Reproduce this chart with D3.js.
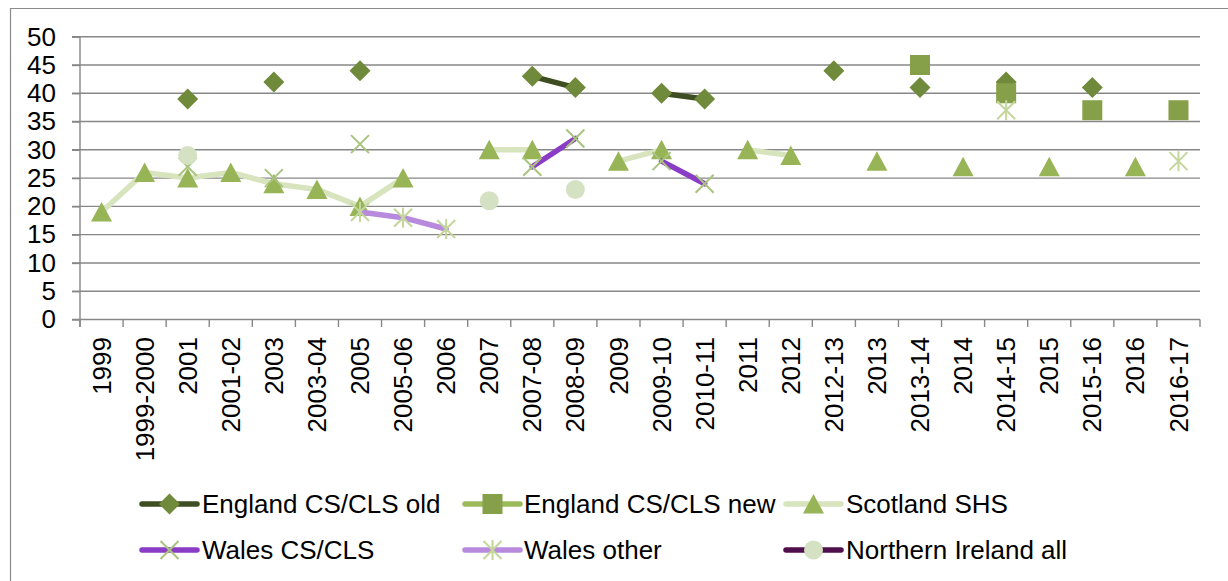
<!DOCTYPE html>
<html><head><meta charset="utf-8">
<script src="https://cdn.jsdelivr.net/npm/d3@7"></script>
<style>
html,body{margin:0;padding:0;background:#fff;}
svg{display:block;font-family:"Liberation Sans",Arial,sans-serif;}
</style></head>
<body>
<svg id="chart" width="1228" height="581"></svg>
<script>
const categories = ["1999","1999-2000","2001","2001-02","2003","2003-04","2005","2005-06","2006","2007","2007-08","2008-09","2009","2009-10","2010-11","2011","2012","2012-13","2013","2013-14","2014","2014-15","2015","2015-16","2016","2016-17"];
const englandOld = [null,null,39,null,42,null,44,null,null,null,43,41,null,40,39,null,null,44,null,41,null,42,null,41,null,null];
const englandNew = [null,null,null,null,null,null,null,null,null,null,null,null,null,null,null,null,null,null,null,45,null,40,null,37,null,37];
const scotland   = [19,26,25,26,24,23,20,25,null,30,30,null,28,30,null,30,29,null,28,null,27,null,27,null,27,null];
const walesCS    = [null,null,27,null,25,null,31,null,null,null,27,32,null,28,24,null,null,null,null,null,null,null,null,null,null,null];
const walesOther = [null,null,null,null,null,null,19,18,16,null,null,null,null,null,null,null,null,null,null,null,null,37,null,null,null,28];
const northernIreland = [null,null,29,null,null,null,null,null,null,21,null,23,null,null,null,null,null,null,null,null,null,null,null,null,null,null];
const yTicks = [0,5,10,15,20,25,30,35,40,45,50];
const seriesNames = ["England CS/CLS old","England CS/CLS new","Scotland SHS","Wales CS/CLS","Wales other","Northern Ireland all"];

const series = [
  {name: seriesNames[0], values: englandOld, line: "#3f4d22", marker: "diamond", fill: "#6f8a3b"},
  {name: seriesNames[1], values: englandNew, line: "#9bbb59", marker: "square", fill: "#86a049"},
  {name: seriesNames[2], values: scotland, line: "#d7e4bd", marker: "triangle", fill: "#97b456"},
  {name: seriesNames[3], values: walesCS, line: "#8a3cc6", marker: "x", fill: "#a8c47e"},
  {name: seriesNames[4], values: walesOther, line: "#b78ade", marker: "star", fill: "#c3d69b"},
  {name: seriesNames[5], values: northernIreland, line: "#4f0e4c", marker: "circle", fill: "#d5e1c3"}
];

const svg = d3.select("#chart");
const L = 80, R = 1200, T = 36.7, B = 319.5;
const x = d3.scaleBand().domain(categories).range([L, R]).paddingInner(0).paddingOuter(0);
const y = d3.scaleLinear().domain([0, 50]).range([B, T]);
const gridColor = "#878787";

// outer frame
svg.append("path").attr("d", `M10.5,590 L10.5,8.5 L1240,8.5`).attr("fill","none").attr("stroke","#8a8a8a").attr("stroke-width",1.2);

// gridlines
svg.append("g").selectAll("line").data(yTicks).join("line")
  .attr("x1", L - 8).attr("x2", R)
  .attr("y1", d => y(d)).attr("y2", d => y(d))
  .attr("stroke", gridColor).attr("stroke-width", 1.4);

// y axis
const yAxis = svg.append("g").attr("transform", `translate(${L},0)`)
  .call(d3.axisLeft(y).tickValues(yTicks).tickSize(8).tickPadding(16));
yAxis.select(".domain").remove();
yAxis.selectAll("line").attr("stroke", gridColor).attr("stroke-width", 1.4);
yAxis.selectAll("text").attr("font-size", 26).attr("fill", "#000").attr("font-family", '"Liberation Sans",Arial,sans-serif');
svg.append("line").attr("x1", L).attr("x2", L).attr("y1", T).attr("y2", B + 7.5)
  .attr("stroke", gridColor).attr("stroke-width", 1.4);

// x axis ticks at band boundaries
const bounds = categories.map(c => x(c)).concat([R]);
svg.append("g").selectAll("line").data(bounds).join("line")
  .attr("x1", d => d).attr("x2", d => d).attr("y1", B).attr("y2", B + 7.5)
  .attr("stroke", gridColor).attr("stroke-width", 1.4);

// x labels
svg.append("g").selectAll("text").data(categories).join("text")
  .attr("transform", d => `translate(${x(d) + x.bandwidth()/2},337) rotate(-90)`)
  .attr("text-anchor", "end").attr("dy", "0.35em")
  .attr("font-size", 26).attr("fill", "#000")
  .text(d => d);

function markerPath(type) {
  switch (type) {
    case "diamond": return "M0,-10.5L10.5,0L0,10.5L-10.5,0Z";
    case "square": return "M-10,-10H10V10H-10Z";
    case "triangle": return "M0,-10L10.5,9.5L-10.5,9.5Z";
    case "circle": return "M9.5,0A9.5,9.5 0 1,1 -9.5,0A9.5,9.5 0 1,1 9.5,0Z";
    case "x": return "M-9,-9L9,9M-9,9L9,-9";
    case "star": return "M-9,-9L9,9M-9,9L9,-9M0,-10V10";
  }
}
function drawMarker(g, s, cx, cy) {
  const p = g.append("path").attr("d", markerPath(s.marker)).attr("transform", `translate(${cx},${cy})`);
  if (s.marker === "x" || s.marker === "star") {
    p.attr("fill", "none").attr("stroke", s.fill).attr("stroke-width", 2);
  } else {
    p.attr("fill", s.fill);
  }
}

series.forEach(s => {
  const g = svg.append("g");
  const vals = s.values;
  const pts = categories.map((c, i) => ({c, v: vals[i], i}));
  // only draw line where a point has a defined neighbour (no isolated dots)
  const line = d3.line()
    .defined(d => d.v != null && ((d.i > 0 && vals[d.i-1] != null) || (d.i < vals.length-1 && vals[d.i+1] != null)))
    .x(d => x(d.c) + x.bandwidth()/2).y(d => y(d.v));
  g.append("path").attr("d", line(pts)).attr("fill", "none")
    .attr("stroke", s.line).attr("stroke-width", 5.5).attr("stroke-linejoin", "round").attr("stroke-linecap", "round");
  pts.filter(d => d.v != null).forEach(d => drawMarker(g, s, x(d.c) + x.bandwidth()/2, y(d.v)));
});

// legend
const legendPos = [
  {lx: 142, tx: 202, y: 504}, {lx: 465, tx: 524, y: 504}, {lx: 786, tx: 846, y: 504},
  {lx: 142, tx: 202, y: 550}, {lx: 465, tx: 524, y: 550}, {lx: 786, tx: 846, y: 550}
];
series.forEach((s, i) => {
  const p = legendPos[i];
  const g = svg.append("g");
  g.append("line").attr("x1", p.lx).attr("x2", p.lx + 55).attr("y1", p.y).attr("y2", p.y)
    .attr("stroke", s.line).attr("stroke-width", 5.5).attr("stroke-linecap", "round");
  drawMarker(g, s, p.lx + 27.5, p.y);
  g.append("text").attr("x", p.tx).attr("y", p.y).attr("dy", "0.35em")
    .attr("font-size", 26).attr("fill", "#000").text(s.name);
});
</script>
</body></html>
